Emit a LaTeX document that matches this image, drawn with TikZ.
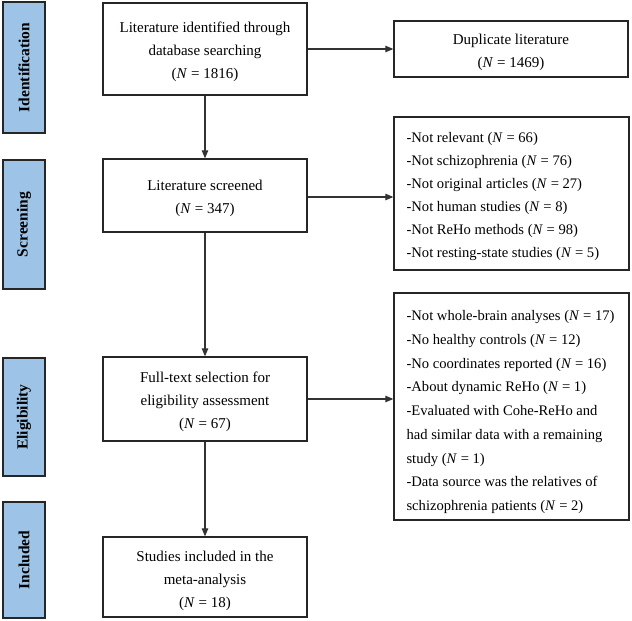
\documentclass[tikz,border=0pt]{standalone}
\usepackage{fontspec}
\setmainfont{Liberation Serif}
\usetikzlibrary{arrows.meta}
\begin{document}
\begin{tikzpicture}[x=1pt,y=-1pt,
  frame/.style={draw=black!85,line width=1.3pt,fill=white,inner sep=0pt},
  boxtext/.style={inner sep=0pt,align=center,font=\fontsize{15}{23}\selectfont},
  listtext/.style={inner sep=0pt,align=left,anchor=west,font=\fontsize{14.6}{23}\selectfont},
  stage/.style={draw=black!85,line width=1.3pt,fill=stageblue,inner sep=0pt,minimum width=42pt},
  stagetext/.style={rotate=90,font=\fontsize{15.5}{18}\selectfont\bfseries},
  arr/.style={draw=black!80,line width=1.1pt,-{Triangle[length=8pt,width=6.5pt]}}]
\definecolor{stageblue}{HTML}{9DC3E6}
\useasboundingbox (0,0) rectangle (632,621);
% stage labels
\node[stage,minimum height=131pt] (s1) at (24,67.5) {};
\node[stagetext] (s1t) at (s1.center) {Identification};
\node[stage,minimum height=129pt] (s2) at (24,224.5) {};
\node[stagetext] (s2t) at (s2.center) {Screening};
\node[stage,minimum height=118pt] (s3) at (24,417) {};
\node[stagetext] (s3t) at (s3.center) {Eligibility};
\node[stage,minimum height=116pt] (s4) at (24,560) {};
\node[stagetext] (s4t) at (s4.center) {Included};
% main boxes
\node[frame,minimum width=204pt,minimum height=92pt] (b1) at (205,49) {};
\node[boxtext] (b1t) at ([yshift=-3pt]b1.center)
  {Literature identified through\\database searching\\(\textit{N} = 1816)};
\node[frame,minimum width=204pt,minimum height=73pt] (b2) at (205,195.5) {};
\node[boxtext] (b2t) at ([yshift=-3pt]b2.center)
  {Literature screened\\(\textit{N} = 347)};
\node[frame,minimum width=204pt,minimum height=84pt] (b3) at (205,399) {};
\node[boxtext] (b3t) at ([yshift=-3pt]b3.center)
  {Full-text selection for\\eligibility assessment\\(\textit{N} = 67)};
\node[frame,minimum width=204pt,minimum height=80pt] (b4) at (205,577) {};
\node[boxtext] (b4t) at ([yshift=-3.5pt]b4.center)
  {Studies included in the\\meta-analysis\\(\textit{N} = 18)};
% right boxes
\node[frame,minimum width=234pt,minimum height=56pt] (d1) at (511,49) {};
\node[boxtext] (d1t) at ([yshift=-3.5pt]d1.center)
  {Duplicate literature\\(\textit{N} = 1469)};
\node[frame,minimum width=235pt,minimum height=153pt] (d2) at (511.5,193.5) {};
\node[listtext] (d2t) at ([xshift=13pt,yshift=-3.5pt]d2.west)
  {-Not relevant (\textit{N} = 66)\\
   -Not schizophrenia (\textit{N} = 76)\\
   -Not original articles (\textit{N} = 27)\\
   -Not human studies (\textit{N} = 8)\\
   -Not ReHo methods (\textit{N} = 98)\\
   -Not resting-state studies (\textit{N} = 5)};
\node[frame,minimum width=235pt,minimum height=227pt] (d3) at (511.5,406.5) {};
\node[listtext,font=\fontsize{14.6}{23.75}\selectfont] (d3t) at ([xshift=13pt,yshift=-5.5pt]d3.west)
  {-Not whole-brain analyses (\textit{N} = 17)\\
   -No healthy controls (\textit{N} = 12)\\
   -No coordinates reported (\textit{N} = 16)\\
   -About dynamic ReHo (\textit{N} = 1)\\
   -Evaluated with Cohe-ReHo and\\
   had similar data with a remaining\\
   study (\textit{N} = 1)\\
   -Data source was the relatives of\\
   schizophrenia patients (\textit{N} = 2)};
% connectors
\draw[arr] (b1) -- (b2);
\draw[arr] (b2) -- (b3);
\draw[arr] (b3) -- (b4);
\draw[arr] (b1.east) -- (d1.west);
\coordinate (c2) at (b2.east |- 0,197);
\draw[arr] (c2) -- (c2 -| d2.west);
\draw[arr] (b3.east) -- (b3.east -| d3.west);
\end{tikzpicture}
\end{document}
